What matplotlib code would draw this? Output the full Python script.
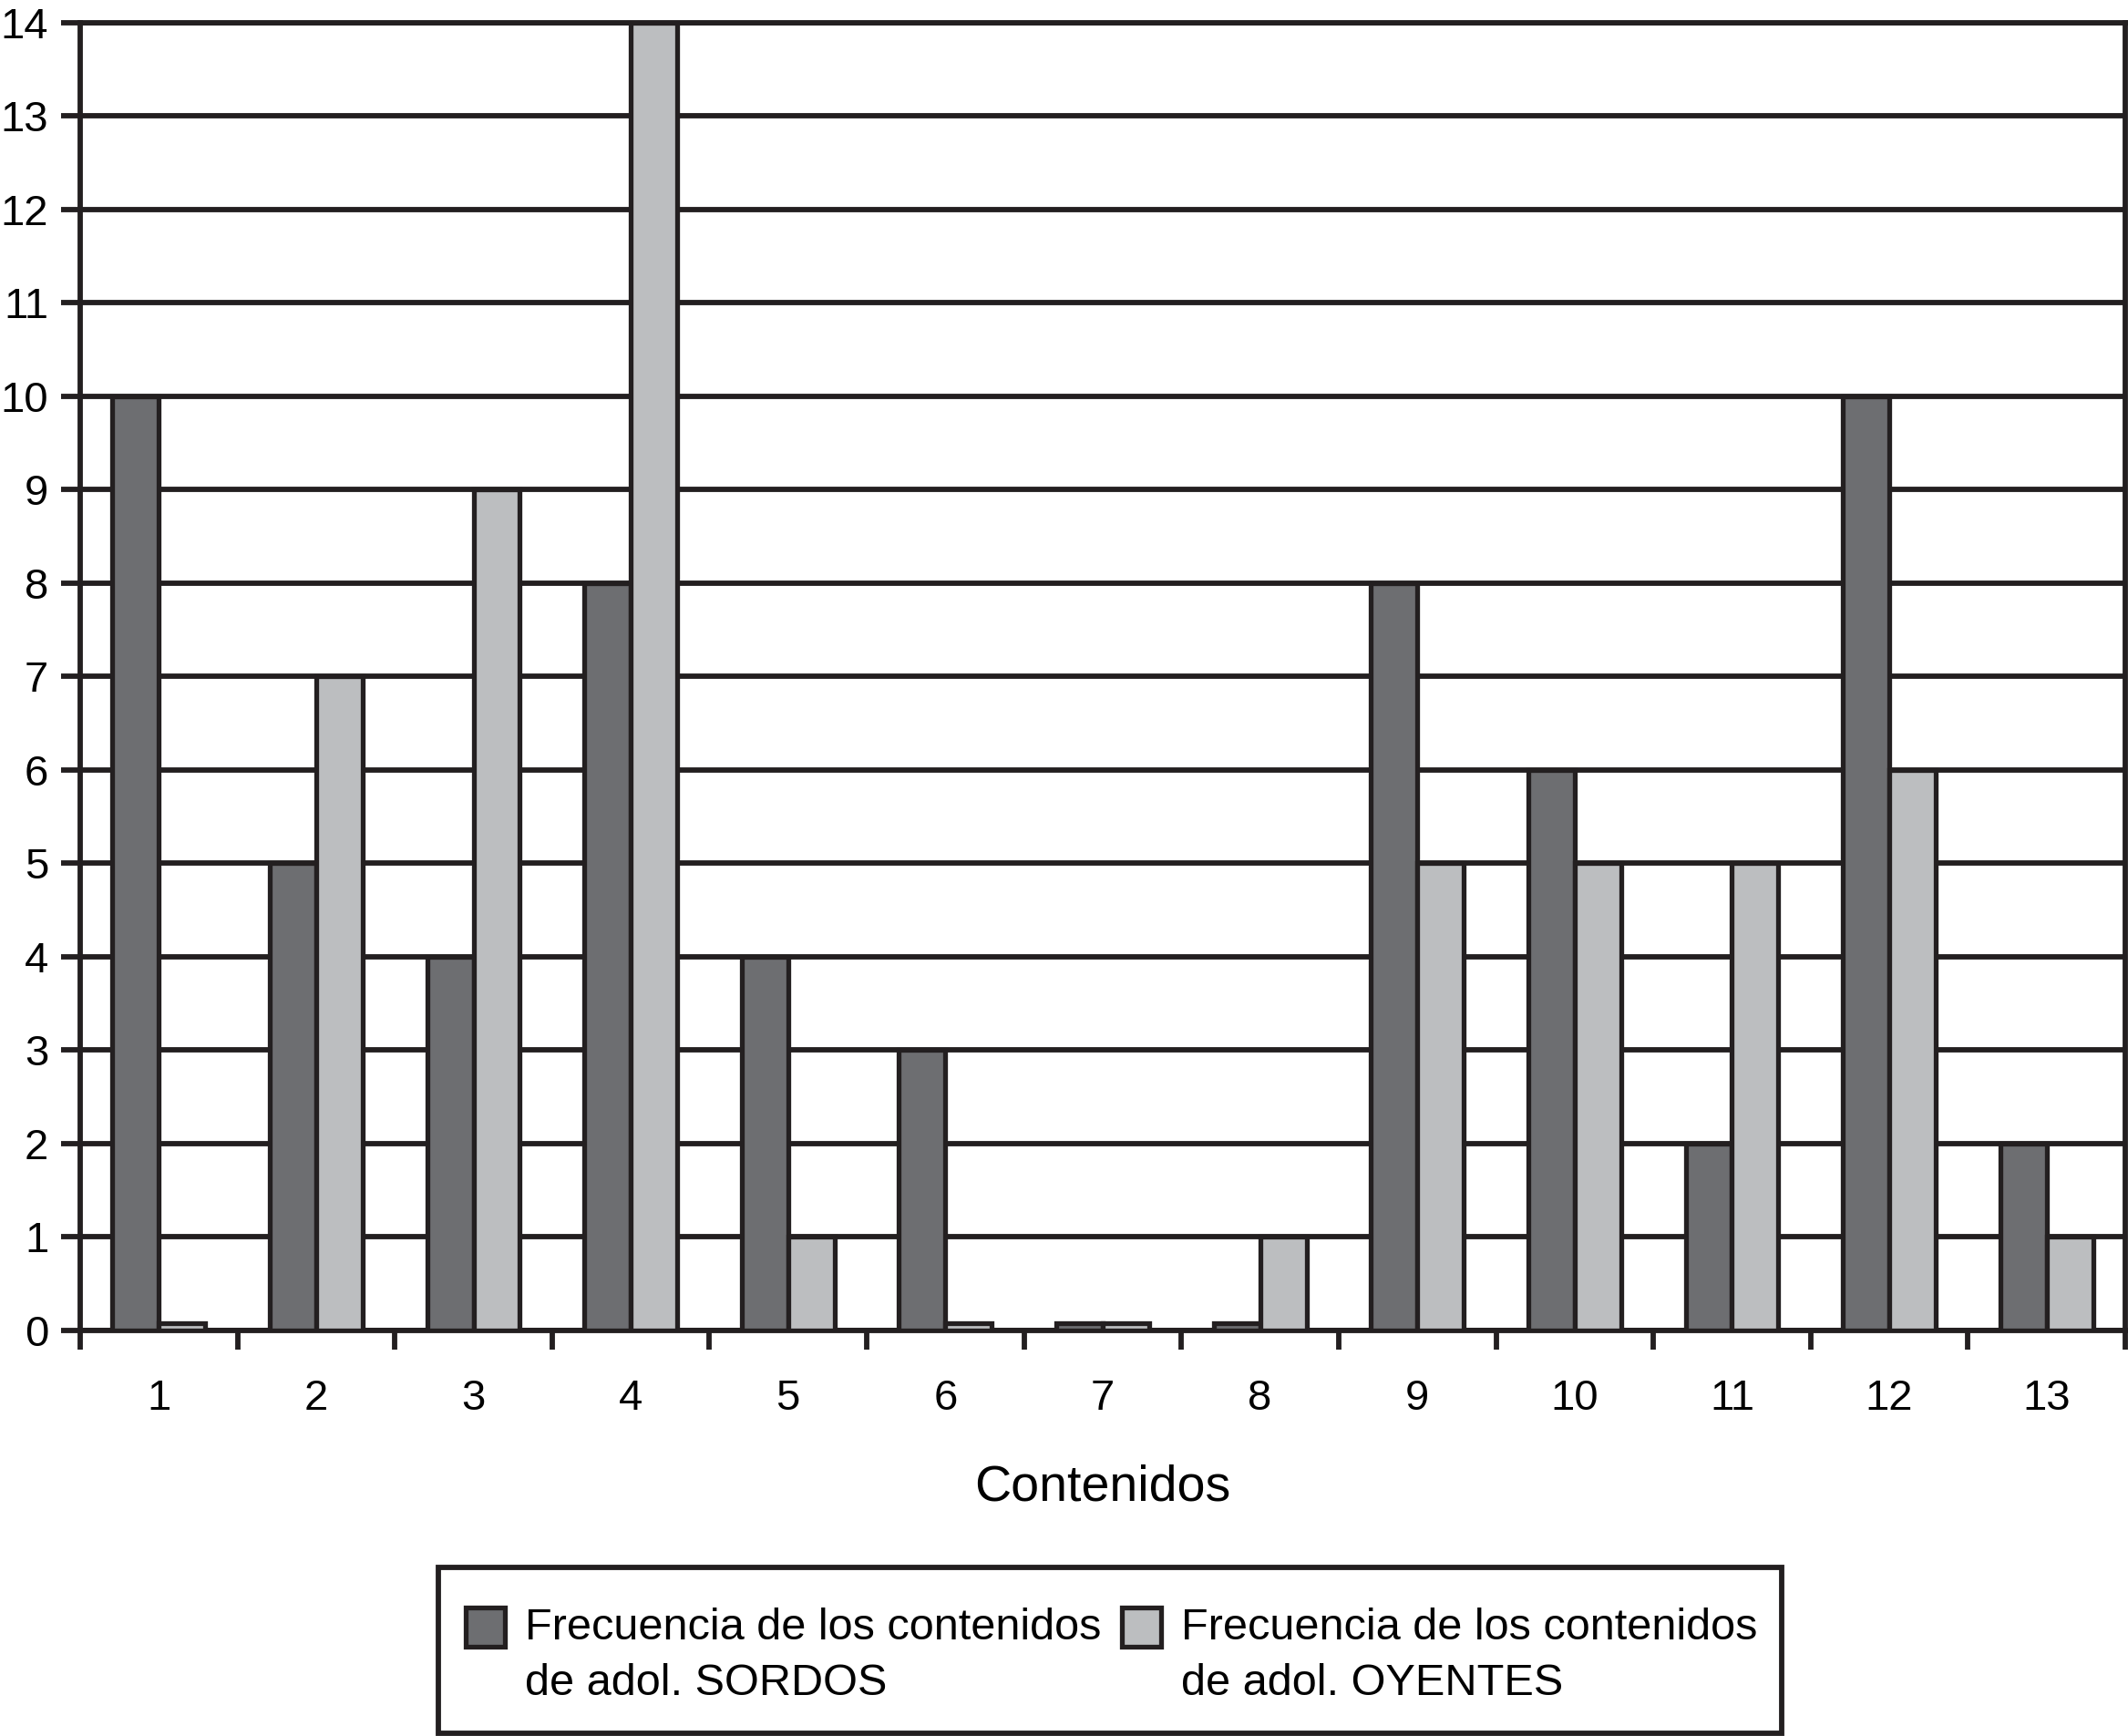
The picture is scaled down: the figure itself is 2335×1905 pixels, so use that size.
import matplotlib
matplotlib.use("Agg")
import matplotlib.pyplot as plt
import matplotlib.patches as mpatches
from matplotlib.legend_handler import HandlerPatch
import numpy as np

plt.rcParams['font.family'] = ['Liberation Sans', 'DejaVu Sans']

categories = ['1', '2', '3', '4', '5', '6', '7', '8', '9', '10', '11', '12', '13']
sordos = [10, 5, 4, 8, 4, 3, 0, 0, 8, 6, 2, 10, 2]
oyentes = [0, 7, 9, 14, 1, 0, 0, 1, 5, 5, 5, 6, 1]
yticks = list(range(0, 15))
label_sordos = 'Frecuencia de los contenidos\nde adol. SORDOS'
label_oyentes = 'Frecuencia de los contenidos\nde adol. OYENTES'
xlabel = 'Contenidos'

ink = '#231f20'
dark = '#6d6e71'
light = '#bcbec0'
lw = 4.2
blw = 3.8
min_h = 0.08  # zero values are drawn as thin slivers in the original

fig = plt.figure(figsize=(23.35, 19.05), dpi=100)
ax = fig.add_axes([0.0377, 0.2336, 0.9610, 0.7533])

x = np.arange(len(categories))
w = 0.295
ax.bar(x - w / 2, np.maximum(sordos, min_h), width=w, color=dark, edgecolor=ink,
       linewidth=blw, zorder=3)
ax.bar(x + w / 2, np.maximum(oyentes, min_h), width=w, color=light, edgecolor=ink,
       linewidth=blw, zorder=3)

ax.set_xlim(-0.5, len(categories) - 0.5)
ax.set_ylim(0, 14)
ax.set_yticks(yticks)
ax.set_yticklabels([str(t) for t in yticks])
ax.yaxis.grid(True, color=ink, linewidth=lw, zorder=1)
ax.set_axisbelow(True)

ax.set_xticks(x)
ax.set_xticklabels(categories)
ax.set_xticks(np.arange(-0.5, len(categories)), minor=True)
ax.tick_params(axis='x', which='major', length=0, pad=38, labelsize=34)
ax.tick_params(axis='x', which='minor', length=15, width=lw, color=ink, direction='out')
ax.tick_params(axis='y', length=15, width=lw, color=ink, pad=10, labelsize=34)

for s in ax.spines.values():
    s.set_linewidth(lw)
    s.set_color(ink)

ax.set_xlabel(xlabel, fontsize=40, labelpad=36)


def top_square(legend, orig_handle, xdescent, ydescent, width, height, fontsize):
    side = 0.88 * fontsize
    return mpatches.Rectangle((-xdescent, -ydescent + height - side + 13), width, side)


handles = [mpatches.Rectangle((0, 0), 1, 1, facecolor=dark, edgecolor=ink, linewidth=3.8),
           mpatches.Rectangle((0, 0), 1, 1, facecolor=light, edgecolor=ink, linewidth=3.8)]
labels = [label_sordos, label_oyentes]
leg = fig.legend(handles, labels, loc='center', bbox_to_anchor=(0.5224, 0.046), ncol=2,
                 fontsize=35, frameon=False, handlelength=0.88, handleheight=2.0,
                 handletextpad=0.45, columnspacing=0.47, borderaxespad=0, borderpad=0,
                 handler_map={mpatches.Rectangle: HandlerPatch(patch_func=top_square)})
for t in leg.get_texts():
    t.set_linespacing(1.45)

frame = mpatches.Rectangle((0.206, 0.0016), 0.6313, 0.0955, transform=fig.transFigure,
                           facecolor='none', edgecolor=ink, linewidth=lw, zorder=5)
fig.patches.append(frame)

fig.savefig('out.png', dpi=100)
